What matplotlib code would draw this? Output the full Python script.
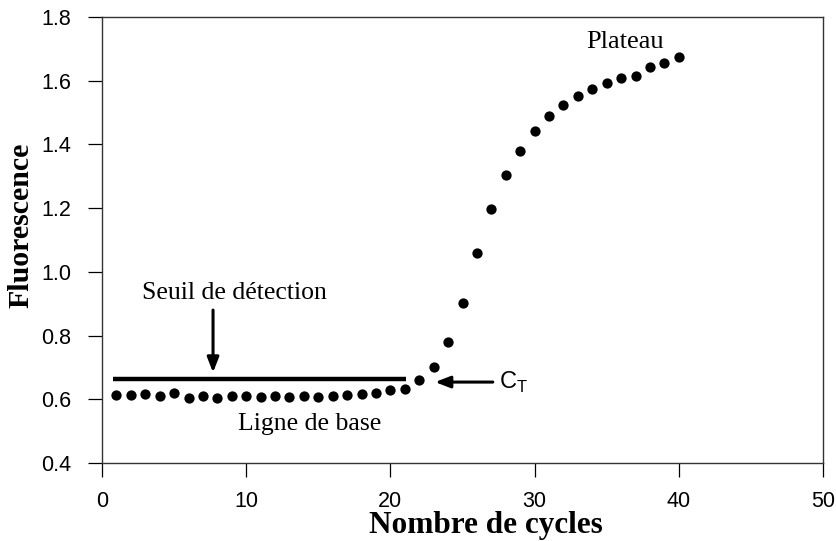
import matplotlib
matplotlib.use("Agg")
import matplotlib.pyplot as plt

cycles = list(range(1, 41))
fluorescence = [0.613, 0.613, 0.617, 0.610, 0.619, 0.605, 0.610, 0.605, 0.610, 0.610,
                0.608, 0.610, 0.608, 0.610, 0.608, 0.610, 0.612, 0.615, 0.620, 0.628,
                0.632, 0.660, 0.701, 0.780, 0.902, 1.059, 1.197, 1.304, 1.379, 1.442,
                1.489, 1.524, 1.552, 1.574, 1.593, 1.608, 1.615, 1.643, 1.656, 1.674]
threshold_value = 0.664
threshold_span = [0.75, 21.1]
xticks = [0, 10, 20, 30, 40, 50]
yticks = [0.4, 0.6, 0.8, 1.0, 1.2, 1.4, 1.6, 1.8]

fig = plt.figure(figsize=(8.36, 5.41), dpi=100)
ax = fig.add_axes([0.122, 0.1442, 0.8625, 0.8244])

ax.plot(cycles, fluorescence, 'o', color='black', markersize=7.4, markeredgewidth=0)
ax.plot(threshold_span, [threshold_value, threshold_value], color='black', linewidth=3.2,
        solid_capstyle='butt')

ax.set_xlim(0, 50)
ax.set_ylim(0.4, 1.8)
ax.set_xticks(xticks)
ax.set_yticks(yticks)
ax.set_xticklabels([str(v) for v in xticks])
ax.set_yticklabels([f"{v:.1f}" for v in yticks])
ax.tick_params(direction='out', length=10, width=0.9, labelsize=15.5)
ax.tick_params(axis='y', pad=12)
ax.tick_params(axis='x', pad=10)
for lab in ax.get_xticklabels() + ax.get_yticklabels():
    lab.set_family('Liberation Sans')
for s in ax.spines.values():
    s.set_linewidth(1.0)
    s.set_color('#333333')

serif = 'Liberation Serif'
ax.set_xlabel('Nombre de cycles', family=serif, fontweight='bold', fontsize=22.5)
ax.set_ylabel('Fluorescence', family=serif, fontweight='bold', fontsize=21.5)
ax.xaxis.set_label_coords(0.533, -0.108)
ax.yaxis.set_label_coords(-0.094, 0.534)

ax.text(9.15, 0.934, 'Seuil de détection', family=serif, fontsize=18.5, ha='center', va='center')
ax.annotate('', xy=(7.7, 0.684), xytext=(7.7, 0.88),
            arrowprops=dict(arrowstyle='-|>,head_length=0.9,head_width=0.35', color='black',
                            lw=2.2, shrinkA=0, shrinkB=0))
ax.text(14.4, 0.522, 'Ligne de base', family=serif, fontsize=18.5, ha='center', va='center')
ax.text(36.3, 1.72, 'Plateau', family=serif, fontsize=19, ha='center', va='center')
ax.annotate('', xy=(23.1, 0.654), xytext=(27.1, 0.654),
            arrowprops=dict(arrowstyle='-|>,head_length=0.9,head_width=0.35', color='black',
                            lw=2.2, shrinkA=0, shrinkB=0))
ax.text(27.5, 0.654, r'C$_\mathregular{T}$', family='Liberation Sans', fontsize=17,
        ha='left', va='center')

fig.savefig('out.png', dpi=100)
